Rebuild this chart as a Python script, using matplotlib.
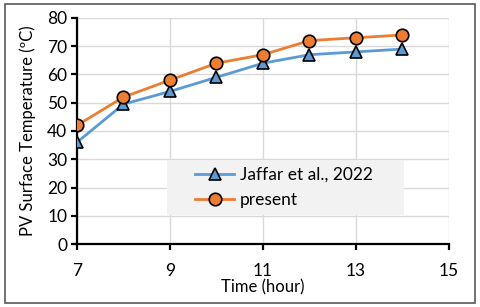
import matplotlib
matplotlib.use("Agg")
import matplotlib.pyplot as plt
from matplotlib.patches import Rectangle

plt.rcParams['font.family'] = ['Lato', 'DejaVu Sans']

# data
hours = [7, 8, 9, 10, 11, 12, 13, 14]
jaffar = [36, 49.5, 54, 59, 64, 67, 68, 69]
present = [42, 52, 58, 64, 67, 72, 73, 74]

fig = plt.figure(figsize=(4.8, 3.07), dpi=100)
ax = fig.add_axes([0.1604, 0.2052, 0.775, 0.7362])

ax.plot(hours, jaffar, color='#5b9bd5', lw=2, marker='^', ms=9,
        mfc='#5b9bd5', mec='black', mew=1.2, label='Jaffar et al., 2022', zorder=3)
ax.plot(hours, present, color='#ed7d31', lw=2, marker='o', ms=9,
        mfc='#ed7d31', mec='black', mew=1.2, label='present', zorder=4)

ax.set_xlim(7, 15)
ax.set_ylim(0, 80)
ax.set_xticks([7, 9, 11, 13, 15])
ax.set_yticks(range(0, 81, 10))
ax.grid(color='#d9d9d9', lw=1)
ax.set_axisbelow(True)

for s in ['top', 'right']:
    ax.spines[s].set_visible(False)
for s in ['left', 'bottom']:
    ax.spines[s].set_linewidth(1.6)
ax.tick_params(direction='out', length=4, width=1.6, labelsize=12.5, colors='black')
ax.tick_params(axis='x', pad=10)
ax.tick_params(axis='y', pad=3)

ax.set_xlabel('Time (hour)', fontsize=12, labelpad=0)
ax.set_ylabel('PV Surface Temperature (\u00baC)', fontsize=12, labelpad=8)

# legend background box
ax.add_patch(Rectangle((0.242, 0.128), 0.637, 0.244, transform=ax.transAxes,
                       facecolor='#f2f2f2', edgecolor='none', zorder=5))
leg = ax.legend(loc='center left', bbox_to_anchor=(0.318, 0.25),
                fontsize=12.5, frameon=False, borderpad=0, borderaxespad=0,
                handlelength=2.25, handletextpad=0.3, labelspacing=0.55)
leg.set_zorder(6)

fig.patches.append(Rectangle((5 / 480, 4 / 307), 470 / 480, 299 / 307,
                             transform=fig.transFigure, fill=False,
                             edgecolor='#595959', lw=1.2))

fig.savefig('out.png', dpi=100)
